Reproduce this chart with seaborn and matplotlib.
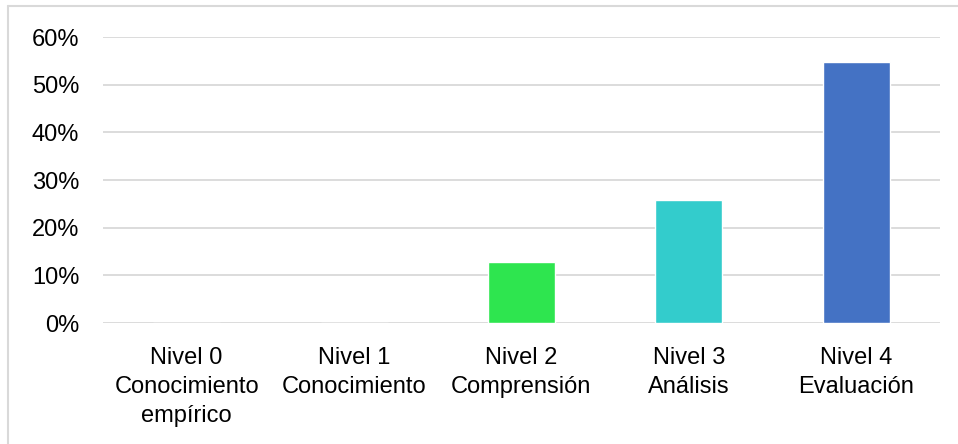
import pandas as pd
import numpy as np
import seaborn as sns
import matplotlib.pyplot as plt
from matplotlib.lines import Line2D
from matplotlib.ticker import PercentFormatter

niveles = ["Nivel 0\nConocimiento\nempírico", "Nivel 1\nConocimiento",
           "Nivel 2\nComprensión", "Nivel 3\nAnálisis", "Nivel 4\nEvaluación"]
porcentajes = [0.0, 0.0, 12.9, 25.8, 54.8]
colores = ["#2EE54F", "#2EE54F", "#2EE54F", "#33CCCC", "#4472C4"]

df = pd.DataFrame({"Nivel": niveles, "Pct": porcentajes})

sns.set_style("white")
plt.rcParams["font.family"] = ["Liberation Sans", "DejaVu Sans"]

fig = plt.figure(figsize=(9.58, 4.44), dpi=100)
ax = fig.add_axes([0.1075, 0.2725, 0.8735, 0.644])

sns.barplot(data=df, x="Nivel", y="Pct", hue="Nivel", palette=colores,
            legend=False, width=0.4, ax=ax, saturation=1)

ax.set_ylim(0, 60)
ax.set_yticks(np.arange(0, 61, 10))
ax.yaxis.set_major_formatter(PercentFormatter(decimals=0))
ax.yaxis.grid(True, color="#D9D9D9", linewidth=1.3)
ax.set_axisbelow(True)
for s in ax.spines.values():
    s.set_visible(False)
ax.set_xlabel("")
ax.set_ylabel("")
ax.tick_params(axis="both", length=0, labelsize=17, colors="black")
ax.tick_params(axis="y", pad=17)
ax.tick_params(axis="x", pad=17)
for lab in ax.get_xticklabels():
    lab.set_linespacing(1.42)

# marco gris claro
fig.add_artist(Line2D([8 / 958, 1], [1 - 6 / 444, 1 - 6 / 444], color="#D9D9D9", lw=1.5))
fig.add_artist(Line2D([8 / 958, 8 / 958], [0, 1 - 6 / 444], color="#D9D9D9", lw=1.5))

plt.savefig("out.png", dpi=100)
